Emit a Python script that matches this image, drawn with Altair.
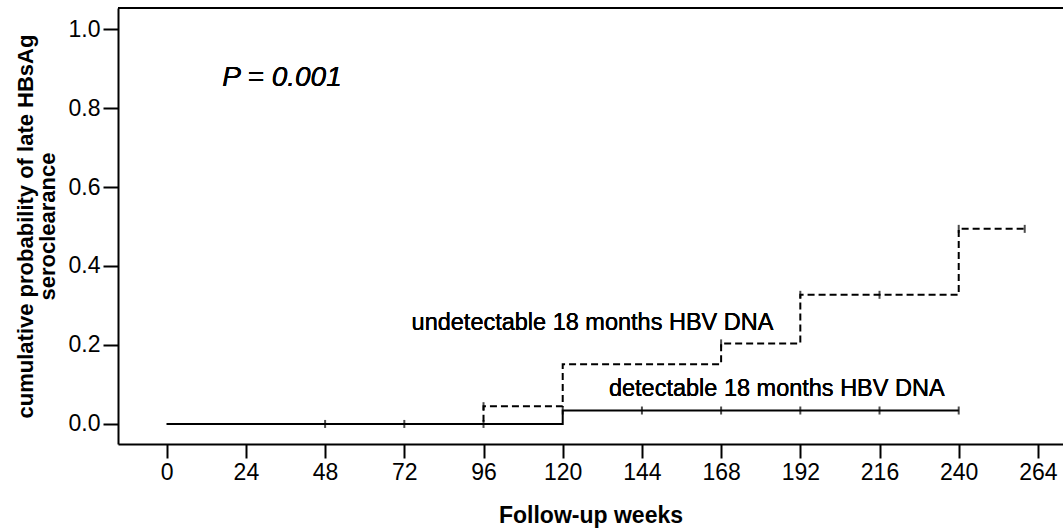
import altair as alt
import pandas as pd

# Kaplan-Meier style step curves
det_weeks = [0, 120, 240]
det_prob = [0.0, 0.034, 0.034]
undet_weeks = [0, 96, 120, 168, 192, 240, 260]
undet_prob = [0.0, 0.045, 0.151, 0.204, 0.327, 0.494, 0.494]

# censor marks
det_cens_weeks = [48, 72, 96, 120, 144, 168, 192, 216, 240]
det_cens_prob = [0.0, 0.0, 0.0, 0.034, 0.034, 0.034, 0.034, 0.034, 0.034]
undet_cens_weeks = [96, 168, 192, 216, 240, 260]
undet_cens_prob = [0.045, 0.204, 0.327, 0.327, 0.494, 0.494]

x_ticks = [0, 24, 48, 72, 96, 120, 144, 168, 192, 216, 240, 264]
y_ticks = [0.0, 0.2, 0.4, 0.6, 0.8, 1.0]

FONT = "Liberation Sans"
W, H = 945, 436

det = pd.DataFrame({"week": det_weeks, "prob": det_prob})
undet = pd.DataFrame({"week": undet_weeks, "prob": undet_prob})
det_c = pd.DataFrame({"week": det_cens_weeks, "prob": det_cens_prob})
undet_c = pd.DataFrame({"week": undet_cens_weeks, "prob": undet_cens_prob})

xscale = alt.Scale(domain=[-14.76, 271.6], nice=False, zero=False)
yscale = alt.Scale(domain=[-0.0508, 1.0533], nice=False, zero=False)

xaxis = alt.Axis(values=x_ticks, title="Follow-up weeks", grid=False,
                 tickSize=14, tickWidth=2, tickColor="black",
                 domainWidth=2, domainColor="black",
                 labelFont=FONT, labelFontSize=23, labelColor="black",
                 labelPadding=3, labelFlush=False,
                 titleFont=FONT, titleFontSize=23, titleFontWeight="bold",
                 titleColor="black", titlePadding=20)
yaxis = alt.Axis(values=y_ticks, format=".1f",
                 title=["cumulative probability of late HBsAg", "seroclearance"],
                 grid=False, tickSize=15, tickWidth=2, tickColor="black",
                 domainWidth=2, domainColor="black",
                 labelFont=FONT, labelFontSize=23, labelColor="black",
                 labelPadding=3, labelFlush=False,
                 titleFont=FONT, titleFontSize=22, titleFontWeight="bold",
                 titleColor="black", titlePadding=9, titleLineHeight=22)

x = alt.X("week:Q", scale=xscale, axis=xaxis)
y = alt.Y("prob:Q", scale=yscale, axis=yaxis)
xs = alt.X("week:Q", scale=xscale)
ys = alt.Y("prob:Q", scale=yscale)

solid = alt.Chart(det).mark_line(interpolate="step-after", color="black",
                                 strokeWidth=2).encode(x=x, y=y)
dashed = alt.Chart(undet).mark_line(interpolate="step-after", color="black",
                                    strokeWidth=2, strokeDash=[7, 4]).encode(x=xs, y=ys)
cens1 = alt.Chart(det_c).mark_tick(orient="vertical", color="black", size=8,
                                   thickness=2).encode(x=xs, y=ys)
cens2 = alt.Chart(undet_c).mark_tick(orient="vertical", color="black", size=8,
                                     thickness=2).encode(x=xs, y=ys)

top_rule = alt.Chart(det).mark_rule(color="black", strokeWidth=2).encode(
    x=alt.value(0), x2=alt.value(W), y=alt.value(0))

lab_undet = alt.Chart(det).mark_text(align="left", baseline="middle", font=FONT,
                                     fontSize=23.5, color="black").encode(
    x=alt.datum(74.2), y=alt.datum(0.256), text=alt.value("undetectable 18 months HBV DNA"))
lab_det = alt.Chart(det).mark_text(align="left", baseline="middle", font=FONT,
                                   fontSize=23.5, color="black").encode(
    x=alt.datum(134.0), y=alt.datum(0.089), text=alt.value("detectable 18 months HBV DNA"))
lab_p = alt.Chart(det).mark_text(align="left", baseline="middle", font=FONT,
                                 fontSize=28, fontStyle="italic", color="black").encode(
    x=alt.datum(16.8), y=alt.datum(0.876), text=alt.value("P = 0.001"))

chart = alt.layer(solid, dashed, cens1, cens2, top_rule, lab_undet, lab_det, lab_p).properties(
    width=W, height=H,
    autosize=alt.AutoSizeParams(type="none"),
    padding={"left": 118, "top": 8, "right": 0, "bottom": 86},
    background="white",
).configure_view(stroke=None)

chart.save("out.html", embed_options={"renderer": "svg", "actions": False})
